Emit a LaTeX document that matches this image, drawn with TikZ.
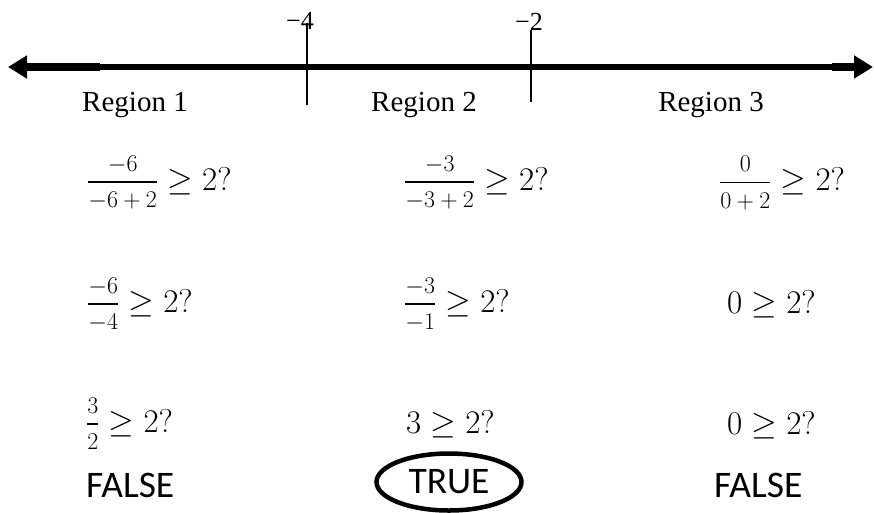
\documentclass[tikz,border=0pt]{standalone}
\usepackage{fix-cm}
\usepackage{amsmath}
\usepackage{fontspec}
\setmainfont{Liberation Serif}
\newfontfamily\calibri{Carlito}
\usepackage{tikz}
\usetikzlibrary{arrows.meta,shapes.geometric}
\newcommand\fr[2]{\genfrac{}{}{1.8pt}{1}{\text{\fontsize{24}{26}\selectfont$#1$\rule[-8pt]{0pt}{8pt}}}{\text{\fontsize{24}{26}\selectfont\rule{0pt}{23pt}$#2$}}}
\tikzset{reg/.style={inner sep=0pt,font=\fontsize{29}{32}\selectfont},
	lab/.style={inner sep=0pt,font=\fontsize{26}{28}\selectfont},
	eq/.style={anchor=west,inner sep=0pt,font=\fontsize{33}{36}\selectfont},
	ans/.style={inner sep=0pt,font=\calibri\fontsize{37.5}{40}\selectfont}}

\begin{document}
\begin{tikzpicture}[x=1pt,y=-1pt]
		\useasboundingbox (0,0) rectangle (874,512);
		\def\ly{67}
		\path (8,\ly) coordinate (L)
		       (873,\ly) coordinate (R)
		       (22,\ly) coordinate (La) (100,\ly) coordinate (Lb)
		       (832,\ly) coordinate (Ra) (858,\ly) coordinate (Rb)
		       (307,23) coordinate (Ta) (307,105) coordinate (Tb)
		       (531,30) coordinate (Tc) (531,102) coordinate (Td);
		    \draw[line width=6pt,{Triangle[length=19pt,width=22pt]}-{Triangle[length=19pt,width=22pt]}] (L)--(R);
		    \draw[line width=8.5pt] (La)--(Lb) (Ra)--(Rb);
		    \draw[line width=2.2pt] (Ta)--(Tb) (Tc)--(Td);
		    \node[lab] (m4) at (300,21) {−4};
		    \node[lab] (m2) at (529,22) {−2};
		    \node[reg] (r1) at (135,105) {Region 1};
		    \node[reg] (r2) at (424,105) {Region 2};
		    \node[reg] (r3) at (711,105) {Region 3};
		    % region 1
		    \node[eq] (a1) at (87,183) {$\fr{-6}{-6+2}\geq 2?$};
		    \node[eq] (a2) at (87,305) {$\fr{-6}{-4}\geq 2?$};
		    \node[eq] (a3) at (86,424) {$\fr{3}{2}\geq 2?$};
		    \node[ans,anchor=west] (a4) at (86,485) {FALSE};
		    % region 2
		    \node[eq] (b1) at (404,183) {$\fr{-3}{-3+2}\geq 2?$};
		    \node[eq] (b2) at (404,305) {$\fr{-3}{-1}\geq 2?$};
		    \node[eq] (b3) at (406,424) {$3\geq 2?$};
		    \node[ans,ellipse,draw,line width=4.5pt,minimum width=145pt,minimum height=57pt] (b4) at (449,482) {TRUE};
		    % region 3
		    \node[eq] (c1) at (719,183) {$\fr{0}{0+2}\geq 2?$};
		    \node[eq] (c2) at (727,304) {$0\geq 2?$};
		    \node[eq] (c3) at (727,425) {$0\geq 2?$};
		    \node[ans,anchor=west] (c4) at (714,485) {FALSE};
\end{tikzpicture}
\end{document}
